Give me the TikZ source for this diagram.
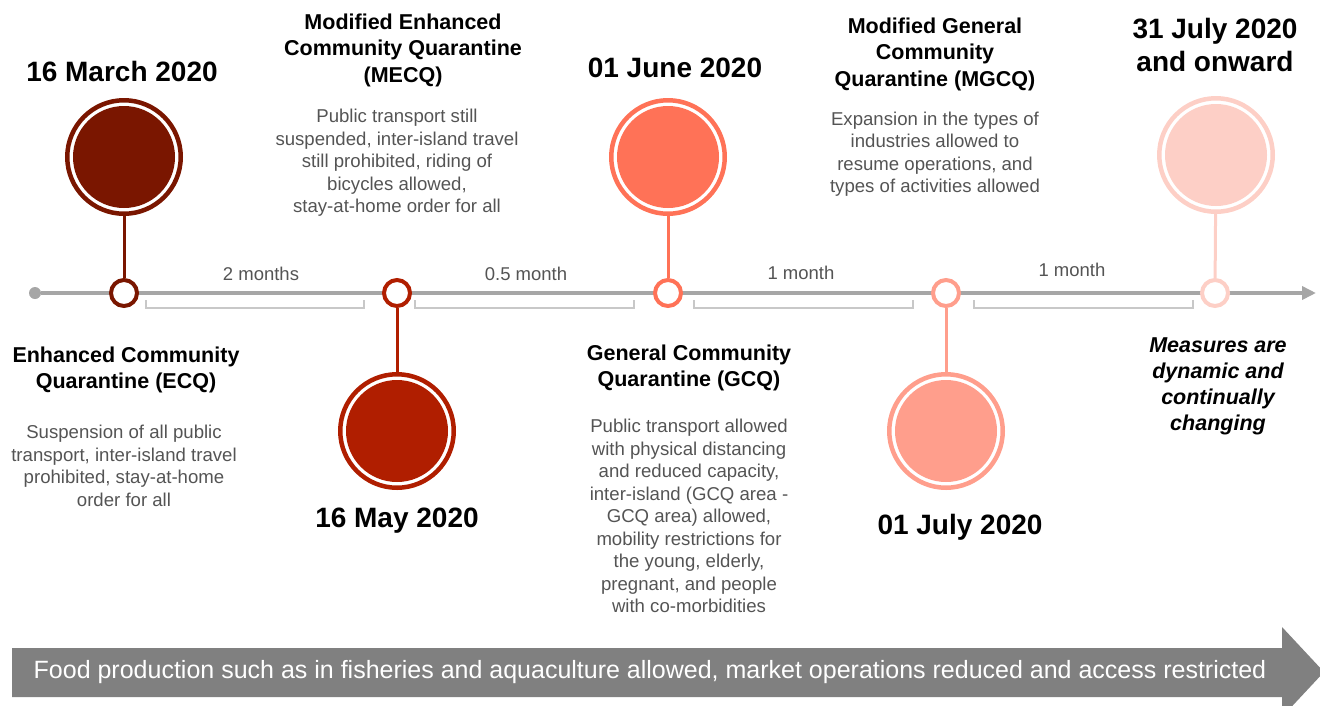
\documentclass[tikz,border=0pt]{standalone}
\usepackage{fontspec}
\setmainfont{Liberation Sans}
\usetikzlibrary{arrows.meta}

\definecolor{ecqred}{RGB}{122,22,0}
\definecolor{mecqred}{RGB}{176,30,0}
\definecolor{gcqorange}{RGB}{255,114,87}
\definecolor{mgcqsalmon}{RGB}{255,158,140}
\definecolor{onwardpink}{RGB}{253,207,198}
\definecolor{linegray}{RGB}{166,166,166}
\definecolor{bracketgray}{RGB}{200,200,200}
\definecolor{textgray}{RGB}{84,84,84}
\definecolor{bannergray}{RGB}{128,128,128}

\tikzset{
    timeline/.style={draw=linegray, line width=4pt, -{Triangle[length=14pt, width=13pt]}},
    startdot/.style={circle, fill=linegray, minimum size=12pt, inner sep=0pt},
    tick/.style={
        circle, draw=#1, line width=4pt,
        minimum size=26pt, inner sep=0pt, fill=white
    },
    ring/.style={
        circle, draw=#1, line width=4.5pt,
        minimum size=113.5pt, inner sep=0pt, fill=white
    },
    dot/.style={circle, fill=#1, minimum size=102pt, inner sep=0pt},
    stem/.style={draw=#1, line width=3pt},
    span/.style={draw=bracketgray, line width=1.5pt},
    duration/.style={font=\fontsize{18.5}{22}\selectfont, text=textgray},
    date/.style={font=\fontsize{28}{33}\selectfont\bfseries, align=center},
    phase/.style={font=\fontsize{21.5}{26.5}\selectfont\bfseries, align=center},
    detail/.style={font=\fontsize{18.6}{22.5}\selectfont, text=textgray, align=center},
    note/.style={font=\fontsize{21.5}{26}\selectfont\bfseries\itshape, align=center},
    bannertext/.style={font=\fontsize{25}{29}\selectfont, text=white}
}

\begin{document}
\begin{tikzpicture}[x=1pt, y=-1pt]
\useasboundingbox (0,0) rectangle (1320,705);

% Axis
\node[startdot] (tl_start) at (35,293) {};
\coordinate (tl_end) at (1316,293);
\draw[timeline] (tl_start) -- (tl_end);

% Ticks on the axis
\node[tick=ecqred] (ecq_pt) at (124,293) {};
\node[tick=mecqred] (mecq_pt) at (397,293) {};
\node[tick=gcqorange] (gcq_pt) at (668,293) {};
\node[tick=mgcqsalmon] (mgcq_pt) at (946,293) {};
\node[tick=onwardpink] (onward_pt) at (1215,293) {};

% Big markers
\node[ring=ecqred] (ecq_big) at (124,157) {};
\node[dot=ecqred] at (ecq_big) {};
\node[ring=mecqred] (mecq_big) at (397,431) {};
\node[dot=mecqred] at (mecq_big) {};
\node[ring=gcqorange] (gcq_big) at (668,157) {};
\node[dot=gcqorange] at (gcq_big) {};
\node[ring=mgcqsalmon] (mgcq_big) at (946,431) {};
\node[dot=mgcqsalmon] at (mgcq_big) {};
\node[ring=onwardpink] (onward_big) at (1216,155) {};
\node[dot=onwardpink] at (onward_big) {};

\draw[stem=ecqred] (ecq_pt) -- (ecq_big);
\draw[stem=mecqred] (mecq_pt) -- (mecq_big);
\draw[stem=gcqorange] (gcq_pt) -- (gcq_big);
\draw[stem=mgcqsalmon] (mgcq_pt) -- (mgcq_big);
\draw[stem=onwardpink] (onward_pt) -- (onward_big);

% Durations
\draw[span] (146,300) -- (146,308) -- (364,308) -- (364,300);
\draw[span] (415,300) -- (415,308) -- (634,308) -- (634,300);
\draw[span] (694,300) -- (694,308) -- (913,308) -- (913,300);
\draw[span] (974,300) -- (974,308) -- (1193,308) -- (1193,300);
\node[duration] (d_ecq) at (261,274) {2 months};
\node[duration] (d_mecq) at (526,274) {0.5 month};
\node[duration] (d_gcq) at (801,273) {1 month};
\node[duration] (d_mgcq) at (1072,270) {1 month};

% Dates
\node[date] (date_ecq) at (122,71) {16 March 2020};
\node[date] (date_mecq) at (397,521) {16 May 2020};
\node[date] (date_gcq) at (675,68) {01 June 2020};
\node[date] (date_mgcq) at (960,527) {01 July 2020};
\node[date] (date_onward) at (1215,45) {31 July 2020\\and onward};

% Phases
\node[phase] (ecq_title) at (126,370) {Enhanced Community\\Quarantine (ECQ)};
\node[detail] (ecq_text) at (124,466) {Suspension of all public\\transport, inter-island travel\\prohibited, stay-at-home\\order for all};

\node[phase] (mecq_title) at (403,50) {Modified Enhanced\\Community Quarantine\\(MECQ)};
\node[detail] (mecq_text) at (397,163) {Public transport still\\suspended, inter-island travel\\still prohibited, riding of\\bicycles allowed,\\stay-at-home order for all};

\node[phase] (gcq_title) at (689,368) {General Community\\Quarantine (GCQ)};
\node[detail] (gcq_text) at (689,516) {Public transport allowed\\with physical distancing\\and reduced capacity,\\inter-island (GCQ area -\\GCQ area) allowed,\\mobility restrictions for\\the young, elderly,\\pregnant, and people\\with co-morbidities};

\node[phase] (mgcq_title) at (935,54) {Modified General\\Community\\Quarantine (MGCQ)};
\node[detail] (mgcq_text) at (935,154) {Expansion in the types of\\industries allowed to\\resume operations, and\\types of activities allowed};

\node[note] (onward_note) at (1218,386) {Measures are\\dynamic and\\continually\\changing};

% Banner
\fill[bannergray] (12,648) -- (1282,648) -- (1282,627) -- (1324,672)
    -- (1282,717) -- (1282,697) -- (12,697) -- cycle;
\node[bannertext] (banner) at (650,672) {Food production such as in fisheries and aquaculture allowed, market operations reduced and access restricted};

\end{tikzpicture}
\end{document}
